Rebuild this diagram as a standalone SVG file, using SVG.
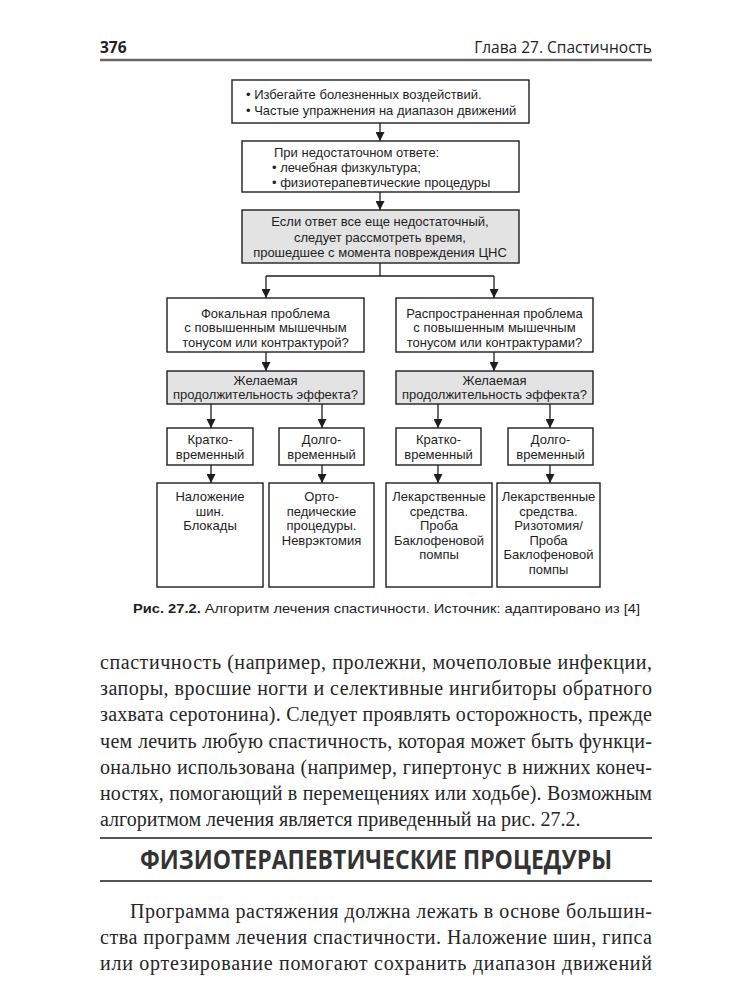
<svg xmlns="http://www.w3.org/2000/svg" width="750" height="1000" viewBox="0 0 750 1000">
<style>
.bg{fill:#ffffff}
.box{fill:#ffffff;stroke:#1e1e1e;stroke-width:1.4}
.gray{fill:#e3e3e3;stroke:#1e1e1e;stroke-width:1.4}
.t{font-family:"Liberation Sans",Arial,sans-serif;font-size:13px;fill:#1e1e1e}
.c{text-anchor:middle}
.con{fill:none;stroke:#1e1e1e;stroke-width:1.3}
.hdr{font-family:"Open Sans","Noto Sans",sans-serif;font-size:15.5px;fill:#222}
.body{font-family:"Liberation Serif","Times New Roman",serif;font-size:20px;fill:#262626}
.rule{stroke:#555;stroke-width:2}
.h1{font-family:"Open Sans","Noto Sans",sans-serif;font-size:26px;font-weight:bold;fill:#333;text-anchor:middle}
</style>
<defs>
<marker id="ah" markerWidth="9" markerHeight="9" refX="9" refY="4.5" orient="auto" markerUnits="userSpaceOnUse">
<path d="M0,0 L9,4.5 L0,9 z" fill="#1e1e1e"/>
</marker>
</defs>
<rect class="bg" x="0" y="0" width="750" height="1000"/>

<g id="header">
<text class="hdr" x="100" y="53" font-weight="bold">376</text>
<text class="hdr" x="652" y="53" text-anchor="end">Глава 27. Спастичность</text>
<line x1="100" y1="60" x2="652" y2="60" stroke="#666" stroke-width="2.5"/>
</g>

<g id="connectors">
<path class="con" d="M380,123 V141" marker-end="url(#ah)"/>
<path class="con" d="M380,192 V210" marker-end="url(#ah)"/>
<path class="con" d="M380,263 V276 M266,276 H494"/>
<path class="con" d="M266,276 V298" marker-end="url(#ah)"/>
<path class="con" d="M494,276 V298" marker-end="url(#ah)"/>
<path class="con" d="M266,352 V371" marker-end="url(#ah)"/>
<path class="con" d="M494,352 V371" marker-end="url(#ah)"/>
<path class="con" d="M211,404 V428" marker-end="url(#ah)"/>
<path class="con" d="M322,404 V428" marker-end="url(#ah)"/>
<path class="con" d="M438,404 V428" marker-end="url(#ah)"/>
<path class="con" d="M550,404 V428" marker-end="url(#ah)"/>
<path class="con" d="M211,465 V483" marker-end="url(#ah)"/>
<path class="con" d="M322,465 V483" marker-end="url(#ah)"/>
<path class="con" d="M438,465 V483" marker-end="url(#ah)"/>
<path class="con" d="M550,465 V483" marker-end="url(#ah)"/>
</g>

<g id="n1">
<rect class="box" x="232" y="80" width="297" height="43"/>
<text class="t" y="99"><tspan x="246">• Избегайте болезненных воздействий.</tspan><tspan x="246" dy="16">• Частые упражнения на диапазон движений</tspan></text>
</g>

<g id="n2">
<rect class="box" x="242" y="141" width="277" height="51"/>
<text class="t" y="157"><tspan x="274">При недостаточном ответе:</tspan><tspan x="272" dy="15">• лечебная физкультура;</tspan><tspan x="272" dy="15">• физиотерапевтические процедуры</tspan></text>
</g>

<g id="n3">
<rect class="gray" x="242" y="210" width="277" height="53"/>
<text class="t c" y="226"><tspan x="380">Если ответ все еще недостаточный,</tspan><tspan x="380" dy="15.5">следует рассмотреть время,</tspan><tspan x="380" dy="15.5">прошедшее с момента повреждения ЦНС</tspan></text>
</g>

<g id="n4">
<rect class="box" x="167" y="298" width="197" height="54"/>
<text class="t c" y="317.5"><tspan x="265.5">Фокальная проблема</tspan><tspan x="265.5" dy="14.8">с повышенным мышечным</tspan><tspan x="265.5" dy="14.8">тонусом или контрактурой?</tspan></text>
</g>

<g id="n5">
<rect class="box" x="396" y="298" width="197" height="54"/>
<text class="t c" y="317.5"><tspan x="494.5">Распространенная проблема</tspan><tspan x="494.5" dy="14.8">с повышенным мышечным</tspan><tspan x="494.5" dy="14.8">тонусом или контрактурами?</tspan></text>
</g>

<g id="n6">
<rect class="gray" x="167" y="371" width="197" height="33"/>
<text class="t c" y="384.5"><tspan x="265.5">Желаемая</tspan><tspan x="265.5" dy="14.8">продолжительность эффекта?</tspan></text>
</g>

<g id="n7">
<rect class="gray" x="396" y="371" width="197" height="33"/>
<text class="t c" y="384.5"><tspan x="494.5">Желаемая</tspan><tspan x="494.5" dy="14.8">продолжительность эффекта?</tspan></text>
</g>

<g id="n8">
<rect class="box" x="167" y="428" width="86" height="37"/>
<text class="t c" y="443.5"><tspan x="210">Кратко-</tspan><tspan x="210" dy="15">временный</tspan></text>
</g>

<g id="n9">
<rect class="box" x="279" y="428" width="85" height="37"/>
<text class="t c" y="443.5"><tspan x="321.5">Долго-</tspan><tspan x="321.5" dy="15">временный</tspan></text>
</g>

<g id="n10">
<rect class="box" x="396" y="428" width="85" height="37"/>
<text class="t c" y="443.5"><tspan x="438.5">Кратко-</tspan><tspan x="438.5" dy="15">временный</tspan></text>
</g>

<g id="n11">
<rect class="box" x="508" y="428" width="85" height="37"/>
<text class="t c" y="443.5"><tspan x="550.5">Долго-</tspan><tspan x="550.5" dy="15">временный</tspan></text>
</g>

<g id="n12">
<rect class="box" x="157" y="483" width="106" height="104"/>
<text class="t c" y="501"><tspan x="210">Наложение</tspan><tspan x="210" dy="14.6">шин.</tspan><tspan x="210" dy="14.6">Блокады</tspan></text>
</g>

<g id="n13">
<rect class="box" x="269" y="483" width="105" height="104"/>
<text class="t c" y="501"><tspan x="321.5">Орто-</tspan><tspan x="321.5" dy="14.6">педические</tspan><tspan x="321.5" dy="14.6">процедуры.</tspan><tspan x="321.5" dy="14.6">Неврэктомия</tspan></text>
</g>

<g id="n14">
<rect class="box" x="386" y="483" width="106" height="104"/>
<text class="t c" y="501"><tspan x="439">Лекарственные</tspan><tspan x="439" dy="14.6">средства.</tspan><tspan x="439" dy="14.6">Проба</tspan><tspan x="439" dy="14.6">Баклофеновой</tspan><tspan x="439" dy="14.6">помпы</tspan></text>
</g>

<g id="n15">
<rect class="box" x="497" y="483" width="103" height="104"/>
<text class="t c" y="501"><tspan x="548.5">Лекарственные</tspan><tspan x="548.5" dy="14.6">средства.</tspan><tspan x="548.5" dy="14.6">Ризотомия/</tspan><tspan x="548.5" dy="14.6">Проба</tspan><tspan x="548.5" dy="14.6">Баклофеновой</tspan><tspan x="548.5" dy="14.6">помпы</tspan></text>
</g>

<g id="caption">
<text class="t" x="133" y="613" font-size="15.5px" textLength="507" lengthAdjust="spacingAndGlyphs"><tspan font-weight="bold">Рис. 27.2.</tspan> Алгоритм лечения спастичности. Источник: адаптировано из [4]</text>
</g>

<g id="para1">
<text class="body" x="100" y="669" textLength="552" lengthAdjust="spacing">спастичность (например, пролежни, мочеполовые инфекции,</text>
<text class="body" x="100" y="695" textLength="552" lengthAdjust="spacing">запоры, вросшие ногти и селективные ингибиторы обратного</text>
<text class="body" x="100" y="721" textLength="552" lengthAdjust="spacing">захвата серотонина). Следует проявлять осторожность, прежде</text>
<text class="body" x="100" y="748" textLength="552" lengthAdjust="spacing">чем лечить любую спастичность, которая может быть функци-</text>
<text class="body" x="100" y="774" textLength="552" lengthAdjust="spacing">онально использована (например, гипертонус в нижних конеч-</text>
<text class="body" x="100" y="800" textLength="552" lengthAdjust="spacing">ностях, помогающий в перемещениях или ходьбе). Возможным</text>
<text class="body" x="100" y="826">алгоритмом лечения является приведенный на рис. 27.2.</text>
</g>

<g id="heading">
<line class="rule" x1="100" y1="838" x2="652" y2="838"/>
<text class="h1" x="376" y="869" textLength="472" lengthAdjust="spacingAndGlyphs">ФИЗИОТЕРАПЕВТИЧЕСКИЕ ПРОЦЕДУРЫ</text>
<line class="rule" x1="100" y1="881" x2="652" y2="881"/>
</g>

<g id="para2">
<text class="body" x="130" y="918" textLength="522" lengthAdjust="spacing">Программа растяжения должна лежать в основе большин-</text>
<text class="body" x="100" y="944" textLength="552" lengthAdjust="spacing">ства программ лечения спастичности. Наложение шин, гипса</text>
<text class="body" x="100" y="970" textLength="552" lengthAdjust="spacing">или ортезирование помогают сохранить диапазон движений</text>
</g>
</svg>
